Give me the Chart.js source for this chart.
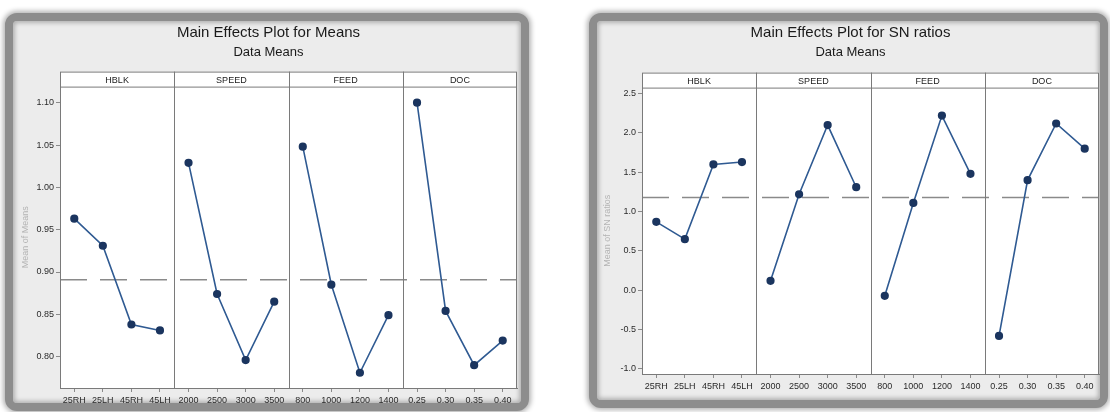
<!DOCTYPE html>
<html>
<head>
<meta charset="utf-8">
<script src="https://cdn.jsdelivr.net/npm/chart.js@4/dist/chart.umd.min.js"></script>
<style>
  html, body { margin: 0; padding: 0; background: #fff; }
  #page { position: relative; width: 1110px; height: 412px; overflow: hidden; }
  .frame {
    position: absolute;
    box-sizing: border-box;
    border: 8px solid #8d8d8d;
    border-radius: 12px;
    background: #ececec;
    box-shadow: 0 0 5px 2px rgba(0, 0, 0, 0.3), inset 0 0 4px 2px rgba(0, 0, 0, 0.25);
  }
  canvas { position: absolute; top: 0; }
</style>
</head>
<body>
<div id="page">
  <div class="frame" style="left:5px;top:13px;width:524px;height:398px;"></div>
  <div class="frame" style="left:589px;top:13px;width:519px;height:395px;"></div>
  <canvas id="means_chart" width="555" height="412" style="left:0;"></canvas>
  <canvas id="sn_chart" width="555" height="412" style="left:555px;"></canvas>
</div>
<script>
// factors and their levels (x axis, 4 levels per factor)
const factors = ["HBLK", "SPEED", "FEED", "DOC"];
const levels = [
  "25RH", "25LH", "45RH", "45LH",
  "2000", "2500", "3000", "3500",
  "800", "1000", "1200", "1400",
  "0.25", "0.30", "0.35", "0.40",
];

// main effects for means
const hblkMeans = [0.963, 0.931, 0.838, 0.831];
const speedMeans = [1.029, 0.874, 0.796, 0.865];
const feedMeans = [1.048, 0.885, 0.781, 0.849];
const docMeans = [1.100, 0.854, 0.790, 0.819];
const meansGrandMean = 0.891;
const meansTicks = [0.80, 0.85, 0.90, 0.95, 1.00, 1.05, 1.10];

// main effects for SN ratios
const hblkSN = [0.87, 0.65, 1.60, 1.63];
const speedSN = [0.12, 1.22, 2.10, 1.31];
const feedSN = [-0.07, 1.11, 2.22, 1.48];
const docSN = [-0.58, 1.40, 2.12, 1.80];
const snGrandMean = 1.18;
const snTicks = [-1.0, -0.5, 0.0, 0.5, 1.0, 1.5, 2.0, 2.5];

const LINE_COLOR = "#2f5a92";
const POINT_COLOR = "#1b355f";
const FRAME_LINE = "#7a7a7a";

Chart.defaults.font.family = "'Liberation Sans', Arial, sans-serif";

// each factor only lives in its own block of 4 categories
function factorDataset(values, index) {
  const data = levels.map(() => null);
  values.forEach((v, i) => { data[index * 4 + i] = v; });
  return {
    label: factors[index],
    data: data,
    borderColor: LINE_COLOR,
    borderWidth: 1.6,
    pointRadius: 3.3,
    pointBackgroundColor: POINT_COLOR,
    pointBorderColor: POINT_COLOR,
    spanGaps: false,
    tension: 0,
  };
}

// strip headers, panel separators and the dashed grand mean line
const facetPlugin = {
  id: "facets",
  beforeDraw(chart, args, opts) {
    const { ctx, chartArea: a } = chart;
    const top = a.top - opts.stripHeight;
    ctx.save();
    ctx.fillStyle = "#ffffff";
    ctx.fillRect(a.left, top, a.right - a.left, a.bottom - top);
    ctx.restore();
  },
  beforeDatasetsDraw(chart, args, opts) {
    const { ctx, chartArea: a, scales } = chart;
    const yMean = scales.y.getPixelForValue(opts.grandMean);
    ctx.save();
    ctx.strokeStyle = "#8a8a8a";
    ctx.lineWidth = 1.5;
    ctx.setLineDash([27, 13]);
    ctx.beginPath();
    ctx.moveTo(a.left, yMean);
    ctx.lineTo(a.right, yMean);
    ctx.stroke();
    ctx.restore();
  },
  afterDraw(chart, args, opts) {
    const { ctx, chartArea: a, scales } = chart;
    const x = scales.x;
    const top = a.top - opts.stripHeight;
    const edges = [a.left];
    for (let k = 1; k < factors.length; k++) {
      edges.push((x.getPixelForValue(k * 4 - 1) + x.getPixelForValue(k * 4)) / 2);
    }
    edges.push(a.right);

    ctx.save();
    ctx.strokeStyle = FRAME_LINE;
    ctx.lineWidth = 1;
    ctx.strokeRect(a.left + 0.5, top + 0.5, a.right - a.left - 1, a.bottom - top);
    ctx.beginPath();
    ctx.moveTo(a.left, a.top + 0.5);
    ctx.lineTo(a.right, a.top + 0.5);
    edges.slice(1, -1).forEach((ex) => {
      ctx.moveTo(Math.round(ex) + 0.5, top);
      ctx.lineTo(Math.round(ex) + 0.5, a.bottom);
    });
    ctx.stroke();

    ctx.fillStyle = "#222222";
    ctx.font = "9px 'Liberation Sans', Arial, sans-serif";
    ctx.textAlign = "center";
    ctx.textBaseline = "middle";
    factors.forEach((name, i) => {
      ctx.fillText(name, (edges[i] + edges[i + 1]) / 2, top + opts.stripHeight / 2 + 1);
    });
    ctx.restore();
  },
};

function buildChart(canvasId, cfg) {
  const ctx = document.getElementById(canvasId).getContext("2d");
  return new Chart(ctx, {
    type: "line",
    data: {
      labels: levels,
      datasets: cfg.series.map((values, i) => factorDataset(values, i)),
    },
    plugins: [facetPlugin],
    options: {
      responsive: false,
      animation: false,
      devicePixelRatio: 1,
      layout: { padding: cfg.padding },
      plugins: {
        legend: { display: false },
        tooltip: { enabled: false },
        title: {
          display: true,
          text: cfg.title,
          color: "#1a1a1a",
          font: { size: 15, weight: "normal", lineHeight: 1.2 },
          padding: { top: 24, bottom: 0 },
        },
        subtitle: {
          display: true,
          text: "Data Means",
          color: "#1a1a1a",
          font: { size: 13, weight: "normal", lineHeight: 1.2 },
          padding: { top: 3, bottom: cfg.subtitleGap },
        },
        facets: { stripHeight: 15, grandMean: cfg.grandMean },
      },
      scales: {
        x: {
          type: "category",
          offset: true,
          afterFit: (scale) => { scale.height = 20; },
          grid: {
            offset: false,
            drawOnChartArea: false,
            drawTicks: true,
            tickLength: 4,
            color: "#8a8a8a",
          },
          border: { display: true, color: FRAME_LINE },
          ticks: {
            autoSkip: false,
            maxRotation: 0,
            padding: 3,
            color: "#2a2a2a",
            font: { size: 9 },
          },
        },
        y: {
          min: cfg.yMin,
          max: cfg.yMax,
          afterFit: (scale) => { scale.width = 40; },
          afterBuildTicks: (scale) => {
            scale.ticks = cfg.ticks.map((v) => ({ value: v }));
          },
          grid: {
            drawOnChartArea: false,
            drawTicks: true,
            tickLength: 4,
            color: "#8a8a8a",
          },
          border: { display: true, color: FRAME_LINE },
          ticks: {
            padding: 2,
            color: "#2a2a2a",
            font: { size: 9 },
            callback: (v) => Number(v).toFixed(cfg.decimals),
          },
          title: {
            display: true,
            text: cfg.yTitle,
            color: "#b4b4b4",
            font: { size: 9 },
            padding: 0,
          },
        },
      },
    },
  });
}

buildChart("means_chart", {
  title: "Main Effects Plot for Means",
  yTitle: "Mean of Means",
  series: [hblkMeans, speedMeans, feedMeans, docMeans],
  grandMean: meansGrandMean,
  ticks: meansTicks,
  decimals: 2,
  yMin: 0.763,
  yMax: 1.119,
  padding: { left: 20, right: 38, top: 0, bottom: 4 },
  subtitleGap: 26,
});

buildChart("sn_chart", {
  title: "Main Effects Plot for SN ratios",
  yTitle: "Mean of SN ratios",
  series: [hblkSN, speedSN, feedSN, docSN],
  grandMean: snGrandMean,
  ticks: snTicks,
  decimals: 1,
  yMin: -1.064,
  yMax: 2.576,
  padding: { left: 47, right: 11, top: 0, bottom: 18 },
  subtitleGap: 27,
});
</script>
</body>
</html>
